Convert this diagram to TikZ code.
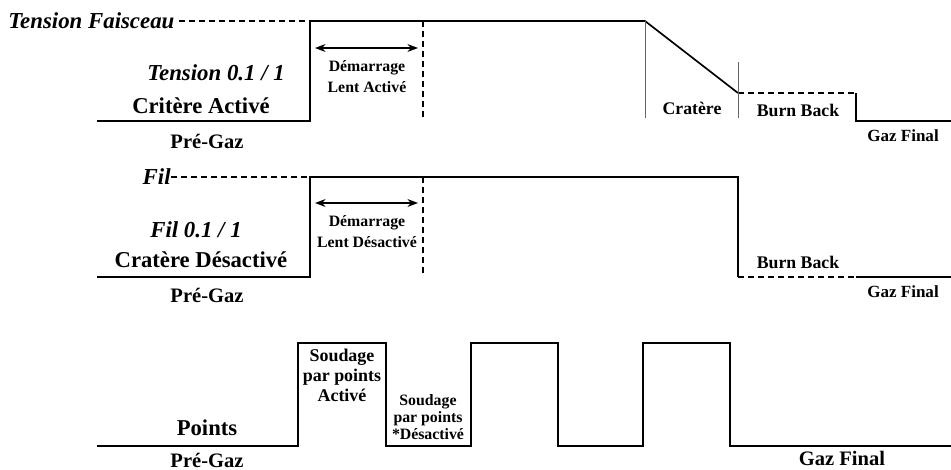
\documentclass[tikz,border=0pt]{standalone}
\usepackage{fontspec}
\setmainfont{Liberation Serif}
\usetikzlibrary{arrows.meta, positioning, calc}

\tikzset{
    wave/.style={line width=0.95pt, line join=miter},
    guide/.style={line width=0.8pt, dash pattern=on 3.4pt off 2.3pt},
    thinrule/.style={line width=0.5pt, black!60},
    span/.style={{Stealth[length=6pt, width=4.5pt]}-{Stealth[length=6pt, width=4.5pt]}, line width=0.8pt},
    biglbl/.style={font=\bfseries\fontsize{12.9}{15}\selectfont, inner sep=0pt},
    bigit/.style={font=\bfseries\itshape\fontsize{13}{15}\selectfont, inner sep=0pt},
    midlbl/.style={font=\bfseries\fontsize{11.7}{14}\selectfont, inner sep=0pt},
    smalllbl/.style={font=\bfseries\fontsize{10.1}{12}\selectfont, inner sep=0pt},
    tinylbl/.style={font=\bfseries\fontsize{9}{12}\selectfont, inner sep=0pt, align=center}
}

\begin{document}
\begin{tikzpicture}[x=0.02cm, y=-0.02cm]
        \useasboundingbox (0,0) rectangle (951,470);

        % ---- Tension (Critere active) ----
        \coordinate (a0) at (97,121);
        \coordinate (a1) at (310,121);
        \coordinate (a2) at (310,21);
        \coordinate (a3) at (645,21);
        \coordinate (a4) at (738,93);
        \coordinate (a5) at (856,93);
        \coordinate (a6) at (856,121);
        \coordinate (a7) at (951,121);

        \draw[wave] (a0) -- (a1) -- (a2) -- (a3) -- (a4);
        \draw[guide] (a4) -- (a5);
        \draw[wave] (a5) -- (a6) -- (a7);

        \node[bigit, anchor=west] (tfx) at (8,21) {Tension Faisceau};
        \draw[guide] (tfx.east) ++(4,0) -- (a2);

        \coordinate (sa1) at (423,21);
        \coordinate (sa2) at (423,118);
        \draw[guide] (sa1) -- (sa2);
        \coordinate (da1) at (315,48);
        \coordinate (da2) at (418,48);
        \draw[span] (da1) -- (da2);

        % crater marks
        \coordinate (ca1) at (645,118);
        \coordinate (cb0) at (738,62);
        \coordinate (cb1) at (738,118);
        \draw[thinrule] (a3) -- (ca1);
        \draw[thinrule] (cb0) -- (cb1);

        \node[bigit] (tns) at (216,73) {Tension 0.1 / 1};
        \node[biglbl] (cra) at (201,106) {Critère Activé};
        \node[midlbl] (pga) at (207,141) {Pré-Gaz};
        \node[tinylbl] (dma) at (367,76.5) {Démarrage\\Lent Activé};
        \node[smalllbl] (crt) at (692,108) {Cratère};
        \node[smalllbl] (bba) at (798,110) {Burn Back};
        \node[font=\bfseries\fontsize{9.7}{12}\selectfont, inner sep=0pt] (gfa) at (903,136) {Gaz Final};

        % ---- Fil (Cratere desactive) ----
        \coordinate (b0) at (97,277);
        \coordinate (b1) at (310,277);
        \coordinate (b2) at (310,177);
        \coordinate (b3) at (738,177);
        \coordinate (b4) at (738,277);
        \coordinate (b5) at (856,277);
        \coordinate (b6) at (951,277);

        \draw[wave] (b0) -- (b1) -- (b2) -- (b3) -- (b4);
        \draw[guide] (b4) -- (b5);
        \draw[wave] (b5) -- (b6);

        \node[bigit, anchor=east] (fil) at (171,177) {Fil};
        \draw[guide] (fil.east) -- (b2);

        \coordinate (sb1) at (423,177);
        \coordinate (sb2) at (423,273);
        \draw[guide] (sb1) -- (sb2);
        \coordinate (db1) at (315,203);
        \coordinate (db2) at (418,203);
        \draw[span] (db1) -- (db2);

        \node[bigit] (fl1) at (196,230) {Fil 0.1 / 1};
        \node[biglbl] (crd) at (201,260) {Cratère Désactivé};
        \node[midlbl] (pgb) at (207,295) {Pré-Gaz};
        \node[tinylbl] (dmb) at (367,232) {Démarrage\\Lent Désactivé};
        \node[smalllbl] (bbb) at (798,262) {Burn Back};
        \node[font=\bfseries\fontsize{9.7}{12}\selectfont, inner sep=0pt] (gfb) at (903,292) {Gaz Final};

        % ---- Points ----
        \foreach \n/\x/\y in {0/97/446, 1/298/446, 2/298/343, 3/386/343, 4/386/446,
                              5/471/446, 6/471/343, 7/558/343, 8/558/446, 9/643/446,
                              10/643/343, 11/730/343, 12/730/446, 13/951/446}
            \coordinate (p\n) at (\x,\y);
        \draw[wave] (p0) -- (p1) -- (p2) -- (p3) -- (p4) -- (p5) -- (p6) -- (p7)
                    -- (p8) -- (p9) -- (p10) -- (p11) -- (p12) -- (p13);

        \node[font=\bfseries\fontsize{10.2}{11.4}\selectfont, inner sep=0pt, align=center] (spa) at (342,375)
            {Soudage\\par points\\Activé};
        \node[font=\bfseries\fontsize{9}{9.8}\selectfont, inner sep=0pt, align=center] (spd) at (428,417)
            {Soudage\\par points\\*Désactivé};
        \node[biglbl] (pts) at (207,428) {Points};
        \node[midlbl] (pgc) at (207,460) {Pré-Gaz};
        \node[midlbl] (gfc) at (842,458) {Gaz Final};

    \end{tikzpicture}
\end{document}
